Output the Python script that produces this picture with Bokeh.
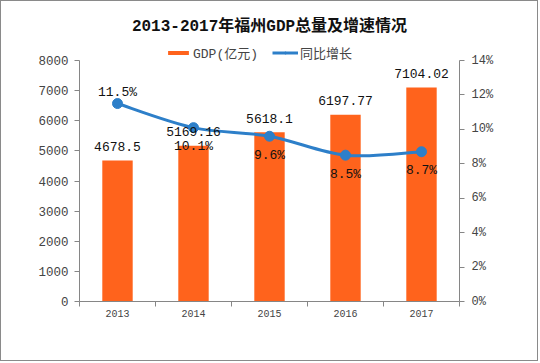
from bokeh.plotting import figure
from bokeh.models import (Range1d, LinearAxis, FixedTicker, PrintfTickFormatter,
                          ColumnDataSource, Legend, LegendItem, Title)
from bokeh.core.properties import value
from bokeh.embed import file_html
from bokeh.resources import INLINE

years = ["2013", "2014", "2015", "2016", "2017"]
gdp = [4678.5, 5169.16, 5618.1, 6197.77, 7104.02]
growth = [11.5, 10.1, 9.6, 8.5, 8.7]
left_ticks = [0, 1000, 2000, 3000, 4000, 5000, 6000, 7000, 8000]
right_ticks = [0, 2, 4, 6, 8, 10, 12, 14]

ORANGE = "#FF631C"
BLUE = "#2D7FC9"
AXIS = "#868686"
MONO = "'Liberation Mono', 'Noto Sans CJK SC', monospace"

xc = [i + 0.5 for i in range(len(years))]

# axis span is 241px; frame is extended 20px above it so the legend fits inside
AX_PX, EXTRA_PX = 241, 20
lmax, rmax = left_ticks[-1], right_ticks[-1]
scale = (AX_PX + EXTRA_PX) / AX_PX

p = figure(width=538, height=361, output_backend="svg", toolbar_location=None,
           x_range=Range1d(0, len(years)), y_range=Range1d(0, lmax * scale),
           min_border_left=78, min_border_right=80, min_border_top=39, min_border_bottom=61)
p.styles = {"border": "1px solid #8a8a8a"}
p.outline_line_color = None
p.xgrid.visible = False
p.ygrid.visible = False
p.background_fill_color = "white"
p.border_fill_color = "white"

p.title = Title(text="2013-2017年福州GDP总量及增速情况", align="center",
                text_font=MONO, text_font_size="16px", text_font_style="bold",
                text_color="#111111", offset=0, standoff=10)

p.extra_y_ranges = {"pct": Range1d(0, rmax * scale)}

# axes
xa = p.xaxis[0]
xa.ticker = FixedTicker(ticks=xc, minor_ticks=list(range(len(years) + 1)))
xa.major_label_overrides = {x: y for x, y in zip(xc, years)}
xa.major_tick_out = 0
xa.major_tick_in = 0
xa.minor_tick_out = 5
xa.minor_tick_in = 0
xa.minor_tick_line_color = AXIS
xa.axis_line_color = AXIS
xa.major_label_text_font = MONO
xa.major_label_text_font_size = "10px"
xa.major_label_standoff = 3

ya = p.yaxis[0]
ya.ticker = FixedTicker(ticks=left_ticks)
ya.bounds = (0, lmax)
ya.major_tick_out = 5
ya.major_tick_in = 0
ya.minor_tick_out = 0
ya.minor_tick_in = 0
ya.axis_line_color = AXIS
ya.major_tick_line_color = AXIS
ya.major_label_text_font = MONO
ya.major_label_text_font_size = "12.5px"
ya.major_label_standoff = 6

ra = LinearAxis(y_range_name="pct", ticker=FixedTicker(ticks=right_ticks),
                formatter=PrintfTickFormatter(format="%d%%"), bounds=(0, rmax))
ra.major_tick_out = 5
ra.major_tick_in = 0
ra.minor_tick_out = 0
ra.minor_tick_in = 0
ra.axis_line_color = AXIS
ra.major_tick_line_color = AXIS
ra.major_label_text_font = MONO
ra.major_label_text_font_size = "12px"
ra.major_label_standoff = 7
p.add_layout(ra, "right")

# bars
src = ColumnDataSource(dict(x=xc, gdp=gdp, growth=growth,
                            gl=["{:g}".format(v) for v in gdp],
                            rl=["{:g}%".format(v) for v in growth]))
bars = p.vbar(x="x", top="gdp", width=0.4, source=src, fill_color=ORANGE, line_color=None)

# smooth line (Catmull-Rom converted to cubic bezier segments)
n = len(growth)
x0s, y0s, x1s, y1s, cx0s, cy0s, cx1s, cy1s = [], [], [], [], [], [], [], []
for i in range(n - 1):
    pa = (xc[max(i - 1, 0)], growth[max(i - 1, 0)])
    pb = (xc[i], growth[i])
    pc = (xc[i + 1], growth[i + 1])
    pd = (xc[min(i + 2, n - 1)], growth[min(i + 2, n - 1)])
    x0s.append(pb[0]); y0s.append(pb[1])
    x1s.append(pc[0]); y1s.append(pc[1])
    cx0s.append(pb[0] + (pc[0] - pa[0]) / 6); cy0s.append(pb[1] + (pc[1] - pa[1]) / 6)
    cx1s.append(pc[0] - (pd[0] - pb[0]) / 6); cy1s.append(pc[1] - (pd[1] - pb[1]) / 6)
curve = p.bezier(x0=x0s, y0=y0s, x1=x1s, y1=y1s, cx0=cx0s, cy0=cy0s, cx1=cx1s, cy1=cy1s,
                 line_color=BLUE, line_width=3, y_range_name="pct")
pts = p.scatter(x="x", y="growth", source=src, size=10, fill_color=BLUE, line_color=BLUE,
                y_range_name="pct")

# data labels
p.text(x="x", y="gdp", text="gl", source=src, text_font=value(MONO), text_font_size="13px",
       text_align="center", text_baseline="middle", y_offset=-14, text_color="#111111")
rate_off = [-11, 19, 19, 19, 19]
src2 = ColumnDataSource(dict(x=xc, growth=growth, rl=src.data["rl"], off=rate_off))
p.text(x="x", y="growth", text="rl", source=src2, text_font=value(MONO), text_font_size="13px",
       text_align="center", text_baseline="middle", y_offset="off", text_color="#111111",
       y_range_name="pct")

legend = Legend(items=[LegendItem(label="GDP(亿元)", renderers=[bars]),
                       LegendItem(label="同比增长", renderers=[curve, pts])],
                orientation="horizontal", location=(86, 239),
                label_text_font=MONO, label_text_font_size="13px",
                glyph_width=26, glyph_height=5, label_standoff=2, spacing=14,
                border_line_color=None, background_fill_alpha=0, padding=2, margin=0)
p.add_layout(legend)

open("out.html", "w").write(file_html(p, INLINE))
